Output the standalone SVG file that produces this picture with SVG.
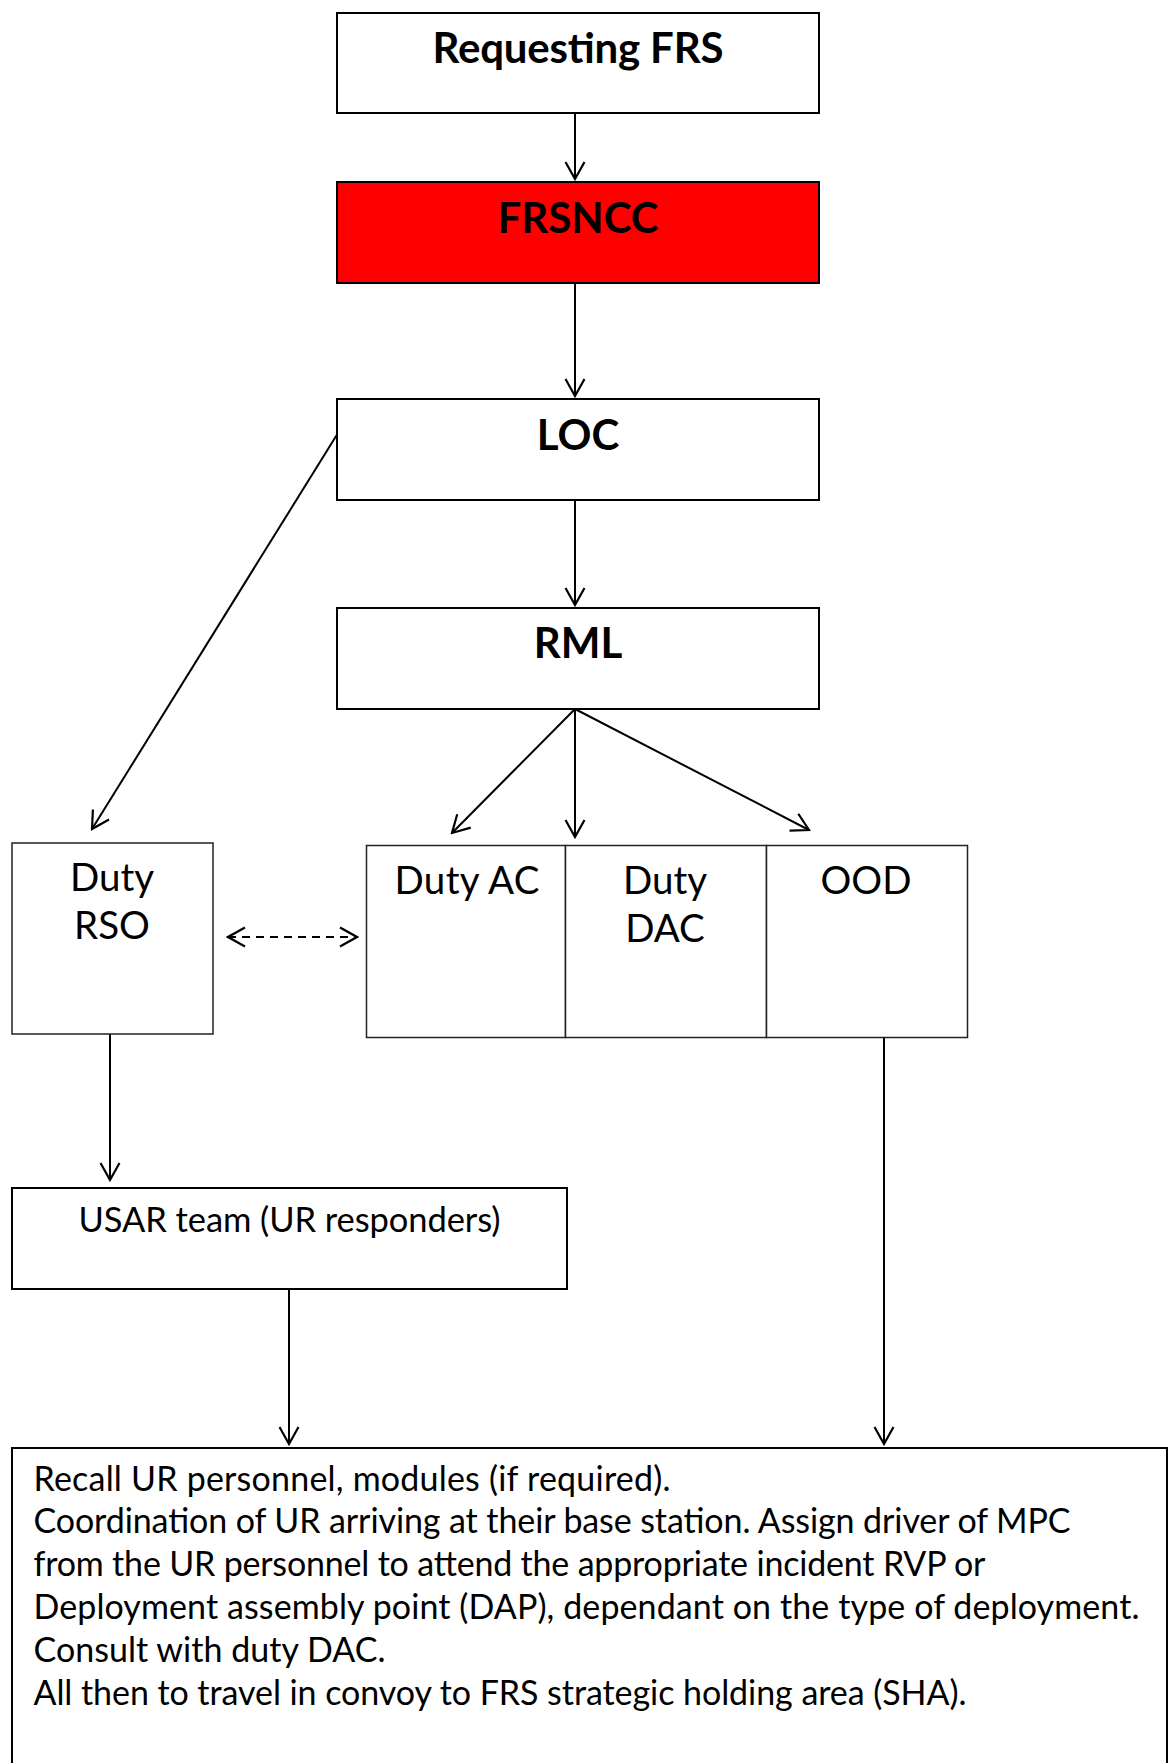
<svg xmlns="http://www.w3.org/2000/svg" width="1168" height="1763" viewBox="0 0 1168 1763">
<defs>
<style>
.box{fill:#fff;stroke:#000;stroke-width:2}
.thin{fill:#fff;stroke:#222;stroke-width:1.5}
.title{font-family:Lato,"Open Sans",sans-serif;font-weight:bold;font-size:42px;text-anchor:middle;fill:#000}
.lbl{font-family:Lato,"Open Sans",sans-serif;font-size:38.5px;text-anchor:middle;fill:#000}
.body{font-family:Lato,"Open Sans",sans-serif;font-size:34px;fill:#000}
.con{stroke:#000;stroke-width:2;fill:none}
</style>
<marker id="ah" markerUnits="userSpaceOnUse" viewBox="-20 -12 22 24" refX="0" refY="0" markerWidth="22" markerHeight="24" orient="auto-start-reverse">
<path d="M-17,-9.5 L0,0 L-17,9.5" fill="none" stroke="#000" stroke-width="2.2"/>
</marker>
</defs>
<g id="connectors">
<line class="con" x1="575" y1="113" x2="575" y2="179" marker-end="url(#ah)"/>
<line class="con" x1="575" y1="283" x2="575" y2="396" marker-end="url(#ah)"/>
<line class="con" x1="575" y1="501" x2="575" y2="605" marker-end="url(#ah)"/>
<line class="con" x1="338" y1="433" x2="92" y2="829" marker-end="url(#ah)"/>
<line class="con" x1="575" y1="709" x2="452" y2="833" marker-end="url(#ah)"/>
<line class="con" x1="575" y1="709" x2="575" y2="837" marker-end="url(#ah)"/>
<line class="con" x1="575" y1="709" x2="809" y2="830" marker-end="url(#ah)"/>
<line class="con" x1="228" y1="937" x2="357" y2="937" stroke-dasharray="8,6" marker-start="url(#ah)" marker-end="url(#ah)"/>
<line class="con" x1="110" y1="1034" x2="110" y2="1180" marker-end="url(#ah)"/>
<line class="con" x1="289" y1="1289" x2="289" y2="1444" marker-end="url(#ah)"/>
<line class="con" x1="884" y1="1038" x2="884" y2="1444" marker-end="url(#ah)"/>
</g>
<g id="requesting">
<rect class="box" x="337" y="13" width="482" height="100"/>
<text class="title" x="578" y="63" textLength="291">Requesting FRS</text>
</g>
<g id="frsncc">
<rect class="box" x="337" y="182" width="482" height="101" style="fill:#FF0000"/>
<text class="title" x="578" y="233">FRSNCC</text>
</g>
<g id="loc">
<rect class="box" x="337" y="399" width="482" height="101"/>
<text class="title" x="578" y="450">LOC</text>
</g>
<g id="rml">
<rect class="box" x="337" y="608" width="482" height="101"/>
<text class="title" x="578" y="658">RML</text>
</g>
<g id="duty-rso">
<rect class="thin" x="12" y="843" width="201" height="191"/>
<text class="lbl" x="112" y="891">Duty</text>
<text class="lbl" x="112" y="939">RSO</text>
</g>
<g id="duty-ac">
<rect class="thin" x="366.5" y="845.5" width="199" height="192"/>
<text class="lbl" x="467" y="894" textLength="145">Duty AC</text>
</g>
<g id="duty-dac">
<rect class="thin" x="565.5" y="845.5" width="201" height="192"/>
<text class="lbl" x="665" y="894">Duty</text>
<text class="lbl" x="665" y="942">DAC</text>
</g>
<g id="ood">
<rect class="thin" x="766.5" y="845.5" width="201" height="192"/>
<text class="lbl" x="866" y="894">OOD</text>
</g>
<g id="usar">
<rect class="box" x="12" y="1188" width="555" height="101"/>
<text class="lbl" x="289.5" y="1232" style="font-size:34.5px" textLength="422">USAR team (UR responders)</text>
</g>
<g id="recall">
<rect class="box" x="12" y="1448" width="1155" height="330"/>
<text class="body" x="33.5" y="1491" textLength="637">Recall UR personnel, modules (if required).</text>
<text class="body" x="33.5" y="1533" textLength="1037">Coordination of UR arriving at their base station. Assign driver of MPC</text>
<text class="body" x="33.5" y="1576" textLength="952">from the UR personnel to attend the appropriate incident RVP or</text>
<text class="body" x="33.5" y="1619" textLength="1106">Deployment assembly point (DAP), dependant on the type of deployment.</text>
<text class="body" x="33.5" y="1662" textLength="352">Consult with duty DAC.</text>
<text class="body" x="33.5" y="1705" textLength="933">All then to travel in convoy to FRS strategic holding area (SHA).</text>
</g>
</svg>
